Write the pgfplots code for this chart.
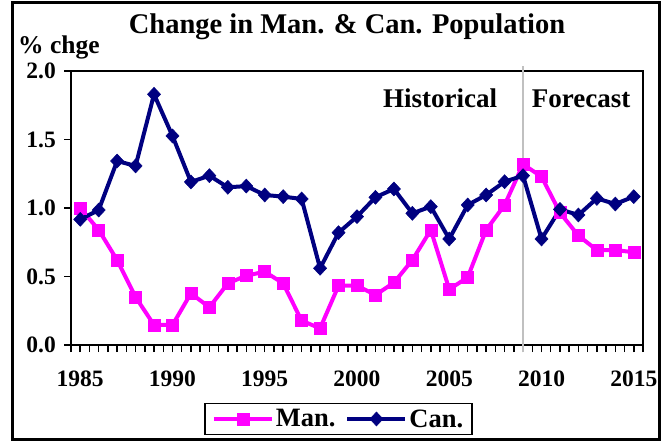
\documentclass[border=0pt]{standalone}
\usepackage{pgfplots}
\pgfplotsset{compat=1.18}
\usepackage{fontspec}
\setmainfont{Liberation Serif}
\definecolor{manc}{RGB}{255,0,255}
\definecolor{canc}{RGB}{0,0,128}
\definecolor{sepc}{RGB}{192,192,192}
\begin{document}
\begin{tikzpicture}[x=1pt,y=1pt]
\useasboundingbox (0,0) rectangle (665,442);
\draw[line width=3pt] (12.5,2) rectangle (659.5,439.5);
\node[anchor=base,inner sep=0pt,font=\fontsize{28.5}{32}\selectfont\bfseries] at (347,408) {Change in Man. \& Can. Population};
\node[anchor=base west,inner sep=0pt,font=\fontsize{25.5}{30}\selectfont\bfseries] at (18,388) {\% chge};
\node[anchor=base,inner sep=0pt,font=\fontsize{27}{30}\selectfont\bfseries] at (440,334) {Historical};
\node[anchor=base,inner sep=0pt,font=\fontsize{27}{30}\selectfont\bfseries] at (581,334) {Forecast};
\begin{axis}[
  at={(71pt,97pt)}, anchor=south west,
  scale only axis, width=572pt, height=274pt,
  xmin=1984.5, xmax=2015.5, ymin=0, ymax=2,
  clip=false,
  axis line style={line width=2pt},
  every tick/.style={black, line width=1.5pt},
  tick align=outside,
  xtick pos=bottom, ytick pos=left,
  xtick={1985,1990,1995,2000,2005,2010,2015},
  xticklabels={1985,1990,1995,2000,2005,2010,2015},
  minor xtick={1984.5,1985,...,2015.5},
  ytick={0,0.5,1,1.5,2},
  yticklabels={0.0,0.5,1.0,1.5,2.0},
  major tick length=7pt, minor tick length=7pt,
  x tick label style={font=\fontsize{23.5}{28}\selectfont\bfseries, inner sep=0pt, yshift=-19pt},
  y tick label style={font=\fontsize{23.5}{28}\selectfont\bfseries, inner sep=0pt, xshift=-8pt},
  legend columns=2,
  legend style={at={(0.4677,-0.27)}, anchor=center, draw=black, line width=1.5pt,
    font=\fontsize{26.5}{30}\selectfont\bfseries, inner xsep=7pt, inner ysep=4pt,
    /tikz/every even column/.append style={column sep=8pt}},
  legend cell align=left,
  legend image code/.code={\draw[mark repeat=2,mark phase=2,#1] plot coordinates {(0pt,0pt) (29pt,0pt) (58pt,0pt)};},
]
\draw[color=sepc, line width=2pt] (axis cs:2009,2.035) -- (axis cs:2009,-0.05);
\addplot[color=manc, line width=4pt, mark=square*, mark size=6pt, mark options={solid, line width=0.5pt, fill=manc}] coordinates {
(1985,1.00) (1986,0.84) (1987,0.62) (1988,0.35) (1989,0.146) (1990,0.146)
(1991,0.377) (1992,0.275) (1993,0.45) (1994,0.506) (1995,0.535) (1996,0.45)
(1997,0.177) (1998,0.122) (1999,0.433) (2000,0.433) (2001,0.365) (2002,0.455)
(2003,0.62) (2004,0.84) (2005,0.406) (2006,0.494) (2007,0.84) (2008,1.022)
(2009,1.319) (2010,1.229) (2011,0.966) (2012,0.798) (2013,0.693) (2014,0.693)
(2015,0.677)};
\addlegendentry{Man.}
\addplot[color=canc, line width=4pt, mark=diamond*, mark size=7pt, mark options={solid, line width=0.5pt, fill=canc, xscale=1.25}] coordinates {
(1985,0.917) (1986,0.985) (1987,1.343) (1988,1.307) (1989,1.83) (1990,1.526)
(1991,1.19) (1992,1.236) (1993,1.151) (1994,1.16) (1995,1.095) (1996,1.083)
(1997,1.066) (1998,0.56) (1999,0.82) (2000,0.937) (2001,1.078) (2002,1.139)
(2003,0.961) (2004,1.01) (2005,0.774) (2006,1.022) (2007,1.095) (2008,1.192)
(2009,1.236) (2010,0.774) (2011,0.99) (2012,0.949) (2013,1.07) (2014,1.029)
(2015,1.083)};
\addlegendentry{Can.}
\end{axis}
\end{tikzpicture}
\end{document}
